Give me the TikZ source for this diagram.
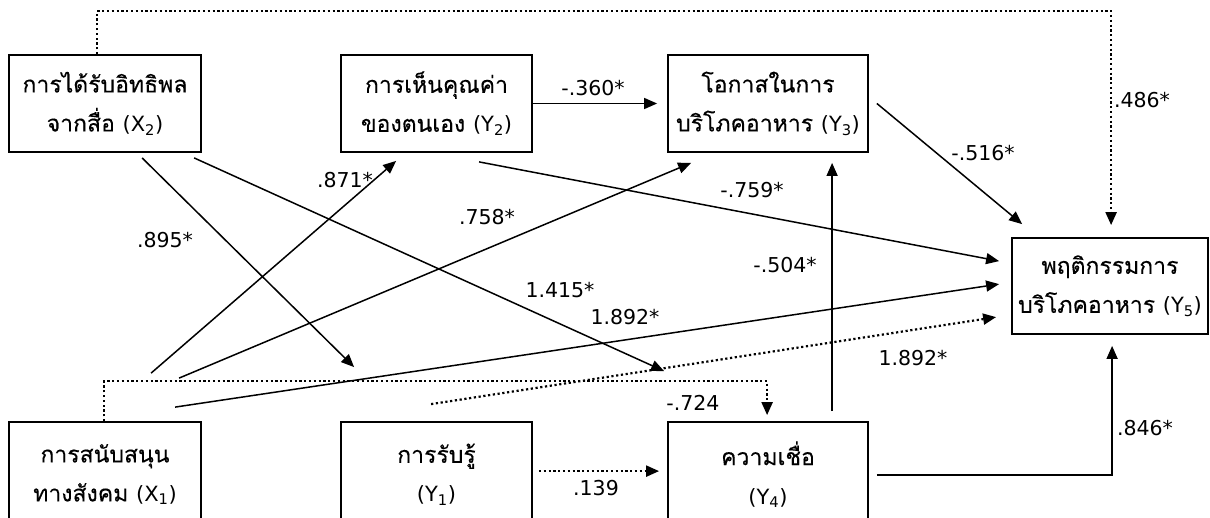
\documentclass[tikz,border=0pt]{standalone}
\usepackage{fontspec}
\setmainfont{DejaVu Sans}
\newfontfamily\thai[Script=Thai, FakeBold=0.25]{Loma}
\newfontfamily\latinfont{DejaVu Sans}
\usetikzlibrary{arrows.meta}

% variable symbol with subscript, e.g. (X_2)
\newcommand{\varsym}[2]{{\latinfont\fontsize{21}{39}\selectfont (#1\textsubscript{#2})}}

\begin{document}
\begin{tikzpicture}[x=1pt,y=-1pt,
  box/.style={draw, line width=1.8pt, align=center, inner sep=0pt,
              font=\thai\fontsize{23}{39}\selectfont},
  topbox/.style={box, minimum height=97pt},
  lowbox/.style={box, minimum height=105pt},
  arr/.style={line width=1.5pt, -{Triangle[length=13pt,width=11pt]}},
  dotline/.style={arr, line width=2.2pt, dash pattern=on 2.2pt off 2.6pt},
  lbl/.style={font=\fontsize{20.5}{22}\selectfont, inner sep=0pt}
]
\useasboundingbox (0,0) rectangle (1210,517);
\fill[white] (0,0) rectangle (1210,517);

% variables
\node[topbox, minimum width=192pt] (X2) at (105,103.5) {การได้รับอิทธิพล\\จากสื่อ \varsym{X}{2}};
\node[topbox, minimum width=191pt] (Y2) at (436.5,103.5) {การเห็นคุณค่า\\ของตนเอง \varsym{Y}{2}};
\node[topbox, minimum width=200pt] (Y3) at (768,103.5) {โอกาสในการ\\บริโภคอาหาร \varsym{Y}{3}};
\node[topbox, minimum width=196pt, minimum height=96pt] (Y5) at (1110,286) {พฤติกรรมการ\\บริโภคอาหาร \varsym{Y}{5}};
\node[lowbox, minimum width=192pt] (X1) at (105,474.5) {การสนับสนุน\\ทางสังคม \varsym{X}{1}};
\node[lowbox, minimum width=191pt] (Y1) at (436.5,474.5) {การรับรู้\\\varsym{Y}{1}};
\node[lowbox, minimum width=200pt] (Y4) at (768,474.5) {ความเชื่อ\\\varsym{Y}{4}};

% direct paths
\draw[arr] ([shift={(134,5)}]X2.south west) -- ([shift={(14,-54)}]Y1.north west);
\draw[arr] ([shift={(186,5)}]X2.south west) -- ([shift={(-3,-50)}]Y4.north west);
\draw[arr] ([shift={(143,-48)}]X1.north west) -- ([shift={(56,8)}]Y2.south west);
\draw[arr] ([shift={(171,-43)}]X1.north west) -- ([shift={(24,10)}]Y3.south west);
\draw[arr] ([shift={(167,-14)}]X1.north west) -- ([shift={(-12,47)}]Y5.north west);
\draw[arr] ([shift={(139,9)}]Y2.south west) -- ([shift={(-12,24)}]Y5.north west);
\draw[arr] ([shift={(8,0)}]Y3.east) -- ([shift={(11,-13)}]Y5.north west);
\draw[arr] (Y2.east) -- ([shift={(-10,0)}]Y3.west);
\draw[arr] ([shift={(165,-10)}]Y4.north west) -- ([shift={(165,10)}]Y3.south west);
\draw[arr] ([shift={(8,54)}]Y4.north east) -| ([shift={(101,11)}]Y5.south west);

% non-significant / indirect paths
\draw[dotline] ([shift={(6,50)}]Y1.north east) -- ([shift={(-8,50)}]Y4.north west);
\draw[dotline] ([shift={(91,-17)}]Y1.north west) -- ([shift={(-15,80)}]Y5.north west);
\draw[dotline] ([shift={(89,0)}]X2.north west) -- ([shift={(89,-43)}]X2.north west)
  -| ([shift={(100,-12)}]Y5.north west);
\draw[dotline] ([shift={(96,0)}]X1.north west) -- ([shift={(96,-40)}]X1.north west)
  -| ([shift={(100,-6)}]Y4.north west);

% path coefficients
\node[lbl] (c1) at (165,240) {.895*};
\node[lbl] (c2) at (345,180) {.871*};
\node[lbl] (c3) at (487,217) {.758*};
\node[lbl] (c4) at (560,290) {1.415*};
\node[lbl] (c5) at (625,317) {1.892*};
\node[lbl] (c6) at (785,265) {-.504*};
\node[lbl] (c7) at (752,190) {-.759*};
\node[lbl] (c8) at (983,153) {-.516*};
\node[lbl] (c9) at (1142,100) {.486*};
\node[lbl] (c10) at (913,358) {1.892*};
\node[lbl] (c11) at (693,403) {-.724};
\node[lbl] (c12) at (596,488) {.139};
\node[lbl] (c13) at (1145,428) {.846*};
\node[lbl] (c14) at (593,88) {-.360*};
\end{tikzpicture}
\end{document}
